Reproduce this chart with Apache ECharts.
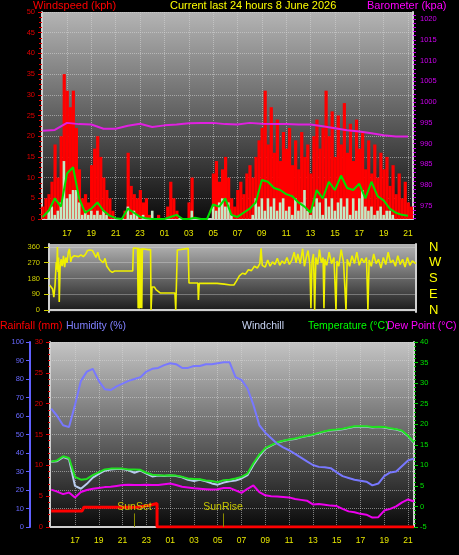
<!DOCTYPE html>
<html><head><meta charset="utf-8">
<script src="https://cdn.jsdelivr.net/npm/echarts@6/dist/echarts.min.js"></script>
<style>html,body{margin:0;padding:0;background:#000;}#c{width:459px;height:555px;}</style>
</head><body><div id="c"></div>
<script>
// ---- time axis (hours since 00:00 of first day) ----
const hourTicks = [17,19,21,23,25,27,29,31,33,35,37,39,41,43,45];

// ---- wind (kph), 15-minute samples from 15:00 ----
const windStart = 15.0, windStep = 0.25;
const windGust = [3,5,6,9,18,10,20,35,31,27, 31,22,12,5,6,4,13,17,20,15, 10,7,5,2,0,0,0,2,16,8,
  6,5,7,4,5,1,0,0,1,0, 0,3,9,5,2,0,0,0,4,10, 0,0,0,0,0,0,11,14,9,12, 15,10,5,3,7,9,6,11,13,10,
  15,19,22,31,18,27,16,24,14,21, 17,22,13,19,12,21,15,18,11,20, 24,17,22,31,20,26,15,25,18,28,
  16,23,14,24,17,21,12,19,11,18, 10,16,12,15,8,13,6,11,5,9, 4,3];
const windPale = [0,0,2,3,1,2,4,14,5,6, 7,7,4,1,2,1,2,1,2,1, 2,1,0,0,0,0,0,0,3,1,
  2,1,0,1,0,0,2,0,0,0, 0,0,0,0,0,0,0,0,0,2, 0,0,0,0,0,0,3,2,4,5, 3,4,1,0,0,0,0,0,0,1,
  5,3,5,2,5,3,5,2,4,5, 2,3,1,5,2,4,7,2,1,3, 5,4,1,5,3,5,2,4,5,3, 5,1,5,2,5,7,3,2,3,1,
  2,3,1,2,2,1,0,0,0,0, 0,0];
// average wind, 30-minute samples from 15:00
const avgStart = 15.0, avgStep = 0.5;
const windAvg = [0.5,2,5,3,11,12.5,5,1.5,2.5,4, 2,0.8,0.2,0,2.5,1.5,0.5,0.2,0,0,
  0,0.5,1,0,0,0.3,0,0,3.5,3, 5,1,0.5,1.5,2.5,4,9.4,9,7.5,7, 6,5.5,4,3,1.5,7,5,9,7,10.5,
  7.5,7,8.5,5,9,5.5,4.5,2.5,1.5,1, 0.8];
// barometer (hPa), hourly from 15:00
const baroStart = 15.0, baroStep = 1;
const baro = [993.1,993.3,995.0,994.7,994.6,993.6,993.6,994.3,994.8,994.0,994.4,994.6,994.9,995.0,995.0,
  994.7,994.6,995.0,994.8,994.7,994.7,994.6,994.6,994.2,993.7,993.2,992.9,992.5,992.0,991.7,991.7];
const baroLabels = [975,980,985,990,995,1000,1005,1010,1015,1020];

// ---- wind direction [hour, degrees] ----
const windDir = [[15.0,143],[15.1,150],[15.25,120],[15.35,74],[15.45,140],[15.55,274],[15.6,230],[15.65,360],
  [15.7,217],[15.75,300],[15.8,46],[15.87,240],[15.95,290],[16.05,250],[16.15,310],[16.25,245],[16.35,300],
  [16.45,270],[16.55,330],[16.65,350],[16.75,275],[16.85,300],[16.95,290],[17.05,310],[17.2,320],[17.4,305],
  [17.6,315],[17.8,305],[18.0,320],[18.15,340],[18.35,343],[18.55,340],[18.7,320],[18.85,300],[19.0,330],
  [19.15,290],[19.3,300],[19.45,270],[19.6,295],[19.75,250],[19.9,240],[20.0,225],[20.2,215],[20.4,223],
  [21.0,223],[21.5,223],[21.9,223],[21.95,354],[22.3,352],[22.35,10],[22.4,355],[22.45,8],[22.5,350],
  [22.55,12],[22.6,352],[22.65,10],[22.7,350],[22.8,350],[23.2,345],[23.38,345],[23.42,0],[23.5,131],
  [23.7,131],[23.85,115],[24.0,110],[24.2,97],[25.4,97],[25.47,0],[25.6,343],[25.7,350],[26.5,352],
  [26.57,154],[27.3,154],[27.35,57],[27.42,152],[28.9,152],[28.97,143],[29.5,148],[30.0,143],[30.3,143],
  [30.5,165],[30.75,195],[31.0,210],[31.25,205],[31.5,230],[31.75,225],[32.0,250],[32.25,240],[32.45,265],
  [32.55,352],[32.65,255],[32.9,245],[33.1,285],[33.3,250],[33.5,275],[33.7,260],[33.9,295],[34.1,255],
  [34.3,280],[34.5,265],[34.7,300],[34.9,260],[35.1,285],[35.3,330],[35.45,270],[35.6,320],[35.8,265],
  [36.0,350],[36.15,250],[36.3,300],[36.45,340],[36.6,260],[36.69,10],[36.78,280],[36.9,320],[37.0,0],
  [37.1,300],[37.25,260],[37.4,345],[37.55,270],[37.7,300],[37.77,10],[37.85,290],[38.0,255],[38.2,330],
  [38.4,265],[38.6,300],[38.77,0],[38.85,280],[39.0,250],[39.2,345],[39.4,270],[39.6,0],[39.7,290],
  [39.9,250],[40.1,310],[40.3,265],[40.5,330],[40.7,255],[40.9,295],[41.1,270],[41.3,300],[41.42,0],
  [41.52,285],[41.7,250],[41.9,320],[42.1,265],[42.3,290],[42.5,240],[42.7,300],[42.9,260],[43.1,330],
  [43.3,270],[43.5,285],[43.7,250],[43.9,310],[44.1,260],[44.3,290],[44.5,245],[44.7,300],[44.9,255],
  [45.1,280],[45.4,265]];
const dirLabels = [0,90,180,270,360];
const dirNames = {0:'N',90:'E',180:'S',270:'W',360:'N'};

// ---- climate, 30-minute samples from 15:00 ----
const climStart = 15.0, climStep = 0.5;
const humidity = [64,60,55,54,66,79,84,85.5,79,74.5, 74,76,77.5,79,80,81,84,85.5,86,87.5,
  88.5,88,86,86,87,87,88,88,88.5,89, 89,81,79.5,75,66,55,51,48,45,43,
  41.5,39.5,37.5,35.5,33.5,32.5,32.3,31.8,29.5,27.5, 26.5,25.5,25,24.5,22.5,23.5,27.5,29.5,30,33, 36,37];
const temperature = [10.9,11.2,12.2,11.8,7.2,6.5,6.7,7.6,8.3,9.0, 9.2,9.2,9.2,9.0,9.0,8.9,8.2,7.7,7.6,7.5,
  7.6,7.5,7.2,6.8,6.7,6.6,6.3,6.2,5.9,6.4, 6.5,6.8,7.2,8.0,10.5,12.6,14.2,14.9,15.6,16.0,
  16.3,16.5,16.9,17.2,17.5,17.9,18.3,18.6,18.7,18.9, 19.2,19.5,19.5,19.5,19.3,19.4,19.3,19.0,18.8,18.4, 17.2,15.6];
const windchill = [10.9,11.0,12.0,11.5,5.0,4.3,5.5,7.0,7.9,8.7, 9.0,9.1,9.1,8.8,8.2,8.7,8.0,7.3,7.5,7.4,
  7.5,7.4,7.1,6.5,6.2,6.5,6.1,5.6,5.3,5.8, 6.1,6.3,6.8,7.6,10.1,12.2,14.0,14.8,15.5,15.9,
  16.2,16.4,16.8,17.1,17.4,17.8,18.2,18.5,18.6,18.8, 19.1,19.4,19.4,19.4,19.2,19.3,19.2,18.9,18.7,18.3, 17.1,15.5];
const dewPoint = [4.1,3.6,3.0,3.4,2.2,3.5,4.0,4.3,4.5,4.7, 4.8,5.0,5.2,5.3,5.2,5.2,5.3,5.2,5.2,5.4,
  5.6,5.2,4.8,4.6,4.4,4.3,4.2,4.1,4.2,4.5, 4.5,3.9,3.3,4.3,5.1,3.5,2.7,2.5,2.4,2.3,
  2.2,1.8,1.6,1.4,0.5,0.6,0.4,0.2,0.1,-0.6, -1.2,-1.4,-1.8,-2.0,-2.7,-2.6,-1.0,-0.6,0.0,1.0, 1.7,1.2];
// rainfall [hour, mm]
const rainfall = [[15.0,2.6],[17.6,2.6],[17.75,3.2],[22.2,3.2],[22.25,3.5],[23.2,3.5],[23.25,3.8],[23.9,3.8],[23.9,0],[45.5,0]];
const sunEvents = [{name:'SunSet', time:22.0},{name:'SunRise', time:29.45}];

// ---- helpers ----
const series = (start, step, arr) => arr.map((v, i) => [start + i * step, v]);
const hh = v => { const h = Math.round(v) % 24; return (h < 10 ? '0' : '') + h; };
const range = (a, b, s) => { const r = []; for (let v = a; v <= b + 1e-9; v += s) r.push(v); return r; };
const FONT = 'Liberation Sans';
const grad = (c0, c1) => new echarts.graphic.LinearGradient(0, 0, 0, 1, [{offset:0,color:c0},{offset:1,color:c1}]);
const dotted = {show:true, lineStyle:{type:'dotted', color:'rgba(215,215,215,0.55)', width:1}};
const border = {show:true, lineStyle:{color:'#d0d0d0', width:2}};

const chart = echarts.init(document.getElementById('c'), null, {renderer:'canvas'});
const xBase = (gi, min, max, extra) => Object.assign({
  gridIndex: gi, type:'value', min, max,
  axisLine: border,
  axisTick: {show:false, customValues: hourTicks},
  axisLabel: {customValues: hourTicks, formatter: hh, color:'#e8e800', fontSize:8.5, fontFamily:FONT, margin:6},
  splitLine: dotted
}, extra || {});

const titleText = (x, y, text, fill, size) => ({type:'text', x, y, silent:true,
  style:{text, fill, font: size + 'px "' + FONT + '"', verticalAlign:'middle'}});

chart.setOption({
  animation: false,
  backgroundColor: '#000',
  grid: [
    {left:42, right:46, top:12, height:207, show:true, borderWidth:0, backgroundColor: grad('#b4b4b4', '#0c0c0c')},
    {left:49, right:43, top:244, height:68, show:true, borderWidth:0, backgroundColor: grad('#b4b4b4', '#181818')},
    {left:50, right:45, top:342, height:185, show:true, borderWidth:0, backgroundColor: grad('#c4c4c4', '#0a0a0a')}
  ],
  xAxis: [
    xBase(0, 14.95, 45.41, {offset:4}),
    xBase(1, 14.95, 45.41, {axisLabel:{show:false, customValues: hourTicks}, splitLine:{show:false}}),
    xBase(2, 14.9, 45.5, {offset:2, axisLabel:{customValues: hourTicks, formatter: hh, color:'#e8e800', fontSize:8.5, fontFamily:FONT, margin:7}})
  ],
  yAxis: [
    {gridIndex:0, type:'value', position:'left', min:0, max:50, interval:5,
     axisLine: border,
     axisTick:{show:true, length:4, lineStyle:{color:'#e00000'}},
     minorTick:{show:true, splitNumber:4, length:3, lineStyle:{color:'#e00000'}},
     axisLabel:{color:'#e00000', fontSize:7.5, fontFamily:FONT, margin:7},
     splitLine: dotted},
    {gridIndex:0, type:'value', position:'right', min:971.87, max:1021.68,
     axisLine: border,
     axisTick:{show:true, length:3, customValues: range(972, 1021, 1), lineStyle:{color:'#cc00ee'}},
     axisLabel:{customValues: baroLabels, formatter: v => String(Math.round(v)), color:'#cc00ee', fontSize:7.5, fontFamily:FONT, margin:7},
     splitLine:{show:false}},
    {gridIndex:1, type:'value', position:'left', min:-11.4, max:377,
     axisLine: border,
     axisTick:{show:true, length:5, customValues: dirLabels, lineStyle:{color:'#d0d000'}},
     axisLabel:{customValues: dirLabels, color:'#d0d000', fontSize:7.5, fontFamily:FONT, margin:9},
     splitLine:{show:true, lineStyle:{color:'rgba(225,225,225,0.35)', width:1}}},
    {gridIndex:1, type:'value', position:'right', min:-11.4, max:377,
     axisLine: border,
     axisTick:{show:false, customValues: dirLabels},
     axisLabel:{customValues: dirLabels, formatter: v => dirNames[v], color:'#ffff00', fontSize:13, fontFamily:FONT, margin:13},
     splitLine:{show:false}},
    {gridIndex:2, type:'value', position:'left', offset:20, min:0, max:100, interval:10,
     axisLine:{show:true, lineStyle:{color:'#6060ff', width:2}},
     axisTick:{show:true, length:4, lineStyle:{color:'#6060ff'}},
     axisLabel:{color:'#6868ff', fontSize:7.5, fontFamily:FONT, margin:6},
     splitLine: dotted},
    {gridIndex:2, type:'value', position:'left', min:0, max:30, interval:5,
     axisLine: border,
     axisTick:{show:true, length:4, lineStyle:{color:'#e00000'}},
     minorTick:{show:true, splitNumber:5, length:2, lineStyle:{color:'#e00000'}},
     axisLabel:{color:'#e00000', fontSize:7.5, fontFamily:FONT, margin:7},
     splitLine:{show:false}},
    {gridIndex:2, type:'value', position:'right', min:-5, max:40, interval:5,
     axisLine: border,
     axisTick:{show:true, length:4, lineStyle:{color:'#00d000'}},
     minorTick:{show:true, splitNumber:5, length:2, lineStyle:{color:'#00d000'}},
     axisLabel:{color:'#00e000', fontSize:7.5, fontFamily:FONT, margin:6},
     splitLine:{show:false}}
  ],
  series: [
    {type:'bar', xAxisIndex:0, yAxisIndex:0, data: series(windStart, windStep, windGust),
     barWidth:3.2, barGap:'-100%', itemStyle:{color:'#ff0000'}, silent:true},
    {type:'bar', xAxisIndex:0, yAxisIndex:0, data: series(windStart, windStep, windPale),
     barWidth:2.6, barGap:'-100%', itemStyle:{color:'#c4eac4'}, silent:true},
    {type:'line', xAxisIndex:0, yAxisIndex:0, data: series(avgStart, avgStep, windAvg),
     showSymbol:false, lineStyle:{color:'#00e000', width:2}, silent:true},
    {type:'line', xAxisIndex:0, yAxisIndex:1, data: series(baroStart, baroStep, baro),
     showSymbol:false, lineStyle:{color:'#e020e0', width:2}, silent:true},
    {type:'line', xAxisIndex:1, yAxisIndex:2, data: windDir,
     showSymbol:false, lineStyle:{color:'#f0f000', width:1.6}, silent:true},
    {type:'line', xAxisIndex:2, yAxisIndex:5, data: rainfall,
     showSymbol:false, lineStyle:{color:'#ff0000', width:3}, silent:true,
     markLine:{silent:true, symbol:['none','none'], animation:false,
       lineStyle:{color:'#8a8a00', type:'solid', width:1},
       label:{position:'end', distance:1, color:'#c8c800', fontSize:10.5, fontFamily:FONT, formatter: p => p.name},
       data: sunEvents.map(e => [{name:e.name, coord:[e.time, 0]}, {coord:[e.time, 2.2]}])}},
    {type:'line', xAxisIndex:2, yAxisIndex:6, data: series(climStart, climStep, windchill),
     showSymbol:false, lineStyle:{color:'#b8ccf0', width:2}, silent:true},
    {type:'line', xAxisIndex:2, yAxisIndex:6, data: series(climStart, climStep, temperature),
     showSymbol:false, lineStyle:{color:'#20e020', width:2}, silent:true},
    {type:'line', xAxisIndex:2, yAxisIndex:4, data: series(climStart, climStep, humidity),
     showSymbol:false, lineStyle:{color:'#7878ff', width:2}, silent:true},
    {type:'line', xAxisIndex:2, yAxisIndex:6, data: series(climStart, climStep, dewPoint),
     showSymbol:false, lineStyle:{color:'#ee00ee', width:2}, silent:true}
  ],
  graphic: [
    titleText(33, 6, 'Windspeed (kph)', '#ff0000', 11),
    titleText(170, 6, 'Current last 24 hours 8 June 2026', '#ffff00', 11),
    titleText(367, 6, 'Barometer (kpa)', '#ff00ff', 11),
    titleText(0, 326, 'Rainfall (mm)', '#ff0000', 10.5),
    titleText(66, 326, 'Humidity (%)', '#8080ff', 10.5),
    titleText(242, 326, 'Windchill', '#c8d4f4', 10.5),
    titleText(308, 326, 'Temperature (°C)', '#00ff00', 10.5),
    titleText(387, 326, 'Dew Point (°C)', '#ff00ff', 10.5)
  ]
});
</script></body></html>
